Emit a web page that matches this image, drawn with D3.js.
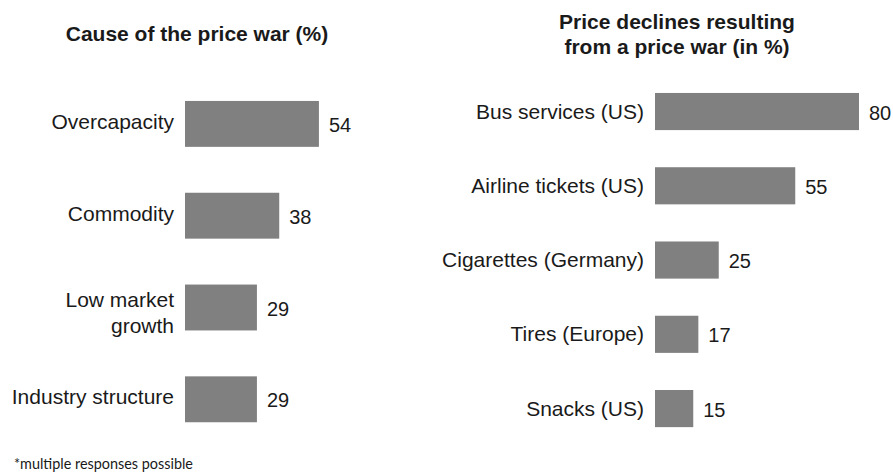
<!DOCTYPE html>
<html>
<head>
<meta charset="utf-8">
<script src="https://cdn.jsdelivr.net/npm/d3@7"></script>
<style>
  body { margin: 0; background: #fff; }
  text { font-family: "Liberation Sans", Arial, sans-serif; fill: #1a1a1a; }
</style>
</head>
<body>
<svg id="chart" width="893" height="472"></svg>
<script>
// left panel data
var causeLabels = [["Overcapacity"], ["Commodity"], ["Low market", "growth"], ["Industry structure"]];
var causeValues = [54, 38, 29, 29];

// right panel data
var declineLabels = ["Bus services (US)", "Airline tickets (US)", "Cigarettes (Germany)", "Tires (Europe)", "Snacks (US)"];
var declineValues = [80, 55, 25, 17, 15];

var barColor = "#808080";

var svg = d3.select("#chart");

// ---- left: cause of the price war ----
var left = svg.append("g");

var yL = d3.scaleBand()
  .domain(d3.range(causeValues.length))
  .range([78, 445.2])
  .paddingInner(0.5)
  .paddingOuter(0.25);

var xL = d3.scaleLinear()
  .domain([0, 100])
  .range([185, 433]);

left.append("text")
  .attr("x", 197)
  .attr("y", 41)
  .attr("text-anchor", "middle")
  .style("font-size", "21px")
  .style("font-weight", "bold")
  .text("Cause of the price war (%)");

left.selectAll(".bar")
  .data(causeValues)
  .enter()
  .append("rect")
  .attr("class", "bar")
  .attr("x", xL(0))
  .attr("y", function (d, i) { return yL(i); })
  .attr("width", function (d) { return xL(d) - xL(0); })
  .attr("height", yL.bandwidth())
  .attr("fill", barColor);

left.selectAll(".val")
  .data(causeValues)
  .enter()
  .append("text")
  .attr("class", "val")
  .attr("x", function (d) { return xL(d) + 10; })
  .attr("y", function (d, i) { return yL(i) + yL.bandwidth() / 2 + 8; })
  .style("font-size", "20px")
  .text(function (d) { return d; });

left.selectAll(".lab")
  .data(causeLabels)
  .enter()
  .append("text")
  .attr("class", "lab")
  .attr("text-anchor", "end")
  .style("font-size", "21px")
  .each(function (lines, i) {
    var mid = yL(i) + yL.bandwidth() / 2;
    var first = lines.length > 1 ? mid - 1 : mid + 5;
    d3.select(this).selectAll("tspan")
      .data(lines)
      .enter()
      .append("tspan")
      .attr("x", 174)
      .attr("y", function (l, j) { return first + j * 26; })
      .text(function (l) { return l; });
  });

left.append("text")
  .attr("x", 14)
  .attr("y", 469)
  .style("font-family", "Lato, 'Open Sans', sans-serif")
  .style("font-size", "14.4px")
  .text("*multiple responses possible");

// ---- right: price declines ----
var right = svg.append("g");

var yR = d3.scaleBand()
  .domain(declineLabels)
  .range([74.4, 445.7])
  .paddingInner(0.5)
  .paddingOuter(0.25);

var xR = d3.scaleLinear()
  .domain([0, 100])
  .range([655, 910]);

right.append("text")
  .attr("x", 677)
  .attr("text-anchor", "middle")
  .style("font-size", "21px")
  .style("font-weight", "bold")
  .selectAll("tspan")
  .data(["Price declines resulting", "from a price war (in %)"])
  .enter()
  .append("tspan")
  .attr("x", 677)
  .attr("y", function (d, i) { return 29 + i * 25; })
  .text(function (d) { return d; });

right.selectAll(".bar")
  .data(declineValues)
  .enter()
  .append("rect")
  .attr("class", "bar")
  .attr("x", xR(0))
  .attr("y", function (d, i) { return yR(declineLabels[i]); })
  .attr("width", function (d) { return xR(d) - xR(0); })
  .attr("height", yR.bandwidth())
  .attr("fill", barColor);

right.selectAll(".val")
  .data(declineValues)
  .enter()
  .append("text")
  .attr("class", "val")
  .attr("x", function (d) { return xR(d) + 10; })
  .attr("y", function (d, i) { return yR(declineLabels[i]) + yR.bandwidth() / 2 + 8; })
  .style("font-size", "20px")
  .text(function (d) { return d; });

right.selectAll(".lab")
  .data(declineLabels)
  .enter()
  .append("text")
  .attr("class", "lab")
  .attr("x", 644)
  .attr("y", function (d) { return yR(d) + yR.bandwidth() / 2 + 7; })
  .attr("text-anchor", "end")
  .style("font-size", "21px")
  .text(function (d) { return d; });
</script>
</body>
</html>
